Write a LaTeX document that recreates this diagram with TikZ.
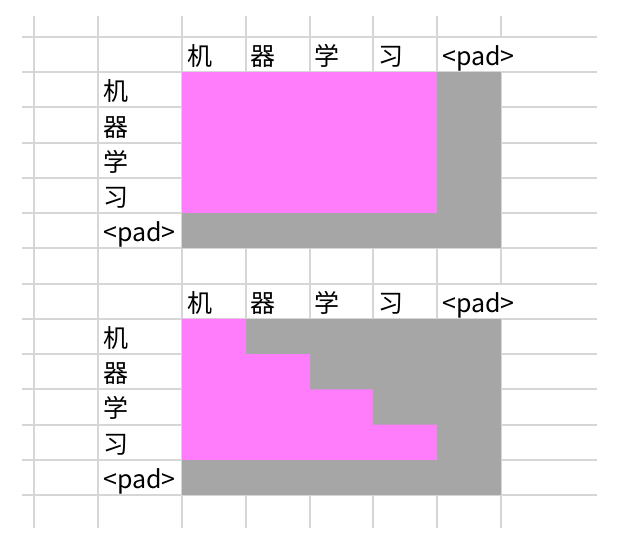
\documentclass[tikz,border=0pt]{standalone}
\usepackage{fontspec}
\setmainfont{Noto Sans CJK SC}
\definecolor{maskpink}{RGB}{255,125,250}
\definecolor{maskgray}{RGB}{166,166,166}
\definecolor{gridgray}{RGB}{214,214,214}
\tikzset{
  gridline/.style={gridgray,line width=2pt},
  celltext/.style={anchor=base west,inner sep=0pt,font=\fontsize{25}{25}\selectfont},
}
\begin{document}
\begin{tikzpicture}[x=1pt,y=-1pt]
      \useasboundingbox (0,0) rectangle (626,553);
      % spreadsheet grid
      \foreach \i in {0,...,13}
        \draw[gridline] (22,{37+35.23*\i}) -- (597,{37+35.23*\i});
      \foreach \x in {34,98,182,246,310,373,437,501}
        \draw[gridline] (\x,16) -- (\x,528);
      % overflowing <pad> header cells hide the border
      \fill[white] (500,38.2) rectangle (502.2,71.2);
      \fill[white] (500,284.6) rectangle (502.2,317.8);
      % upper mask: padding only
      \fill[maskpink] (182,72.2) rectangle (437,213.2);
      \fill[maskgray] (437,72.2) rectangle (501,248.4);
      \fill[maskgray] (182,213.2) rectangle (437,248.4);
      % lower mask: padding and future positions
      \fill[maskgray] (182,318.8) rectangle (501,495);
      \fill[maskpink] (182,318.8) -- (246,318.8) -- (246,354.1) -- (310,354.1)
        -- (310,389.3) -- (373,389.3) -- (373,424.5) -- (437,424.5)
        -- (437,459.8) -- (182,459.8) -- cycle;
      % labels
      \foreach \w [count=\i] in {机,器,学,习,<pad>} {
        \node[celltext] (topcol\i) at ({187+63.75*(\i-1)},66) {\w};
        \node[celltext] (toprow\i) at (103,{101+35.23*(\i-1)}) {\w};
        \node[celltext] (botcol\i) at ({187+63.75*(\i-1)},312.4) {\w};
        \node[celltext] (botrow\i) at (103,{347.4+35.23*(\i-1)}) {\w};
      }
\end{tikzpicture}
\end{document}
